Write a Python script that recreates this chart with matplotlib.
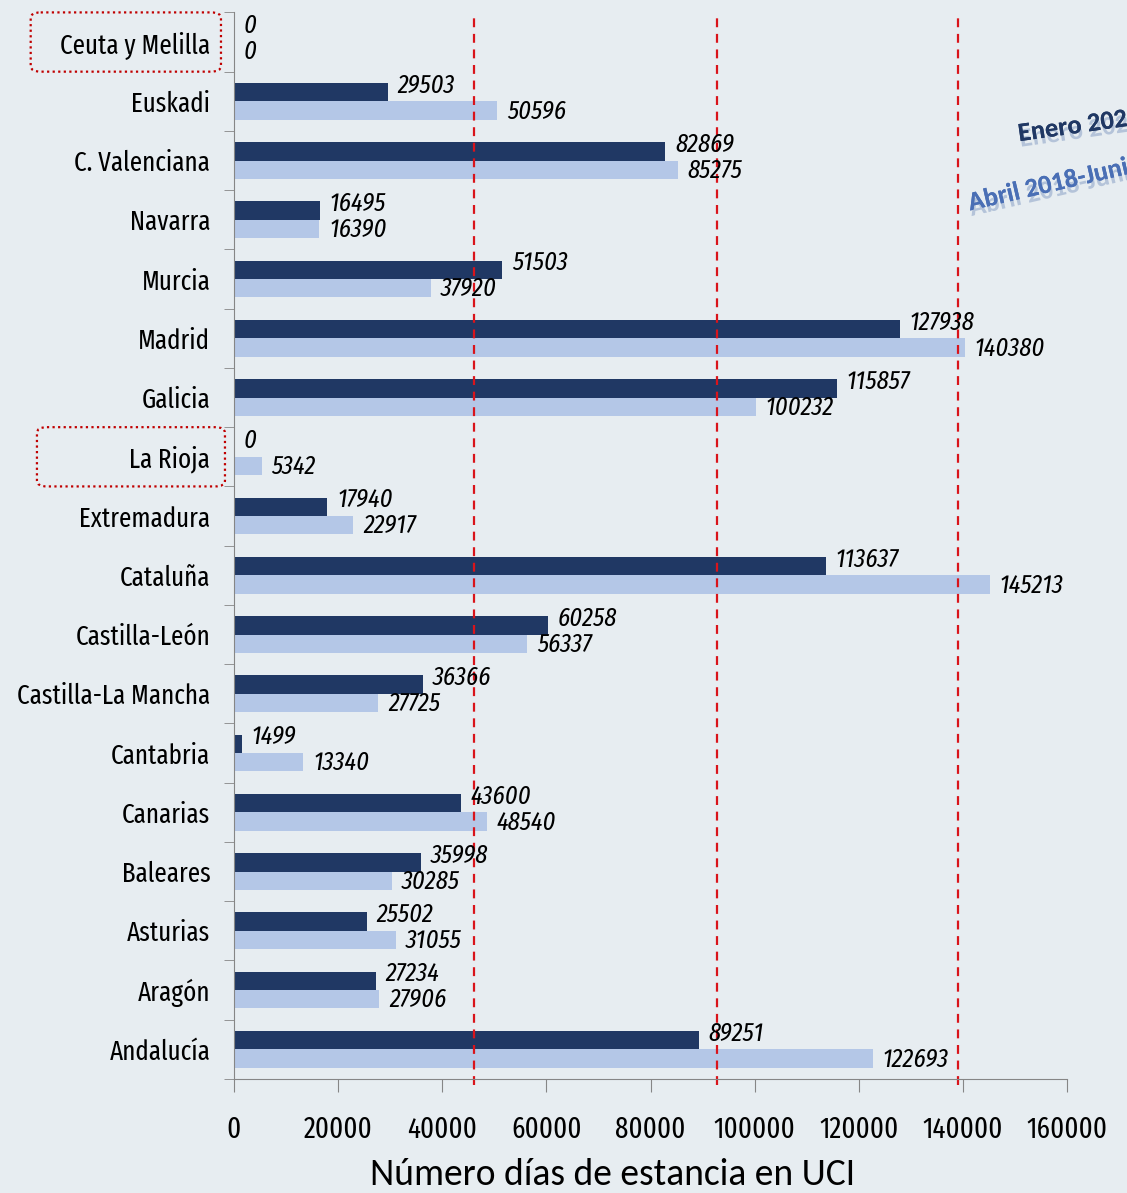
import numpy as np
import matplotlib.pyplot as plt
import matplotlib.transforms as mtransforms
import matplotlib.patheffects as pe
from matplotlib.patches import FancyBboxPatch

plt.rcParams['font.family'] = ['Fira Sans Extra Condensed', 'DejaVu Sans']

regions = ["Ceuta y Melilla", "Euskadi", "C. Valenciana", "Navarra", "Murcia", "Madrid",
           "Galicia", "La Rioja", "Extremadura", "Cataluña", "Castilla-León",
           "Castilla-La Mancha", "Cantabria", "Canarias", "Baleares", "Asturias",
           "Aragón", "Andalucía"]
dias_2020 = [0, 29503, 82869, 16495, 51503, 127938, 115857, 0, 17940, 113637, 60258,
             36366, 1499, 43600, 35998, 25502, 27234, 89251]
dias_2018 = [0, 50596, 85275, 16390, 37920, 140380, 100232, 5342, 22917, 145213, 56337,
             27725, 13340, 48540, 30285, 31055, 27906, 122693]
cortes = [46100, 92800, 139100]
marcados = ["Ceuta y Melilla", "La Rioja"]

bg = '#E7EDF1'
dark = '#203864'
light = '#B4C7E7'

fig = plt.figure(figsize=(11.27, 11.93), dpi=100, facecolor=bg)
ax = fig.add_axes([0.2076, 0.0956, 0.7392, 0.894])
ax.set_facecolor(bg)

y = np.arange(len(regions))
h = 0.31
ax.barh(y - h / 2, dias_2020, height=h, color=dark)
ax.barh(y + h / 2, dias_2018, height=h, color=light)

for i in range(len(regions)):
    ax.annotate(str(dias_2020[i]), (dias_2020[i], y[i] - 0.27), xytext=(7, 0),
                textcoords='offset points', va='center', ha='left',
                fontsize=19, style='italic', color='black')
    ax.annotate(str(dias_2018[i]), (dias_2018[i], y[i] + 0.17), xytext=(7, 0),
                textcoords='offset points', va='center', ha='left',
                fontsize=19, style='italic', color='black')

for c in cortes:
    ax.axvline(c, color='#D9141B', ls=(0, (4, 3)), lw=1.6, ymin=-0.006, ymax=1, clip_on=False)

ax.set_xlim(0, 160000)
ax.set_ylim(len(regions) - 0.5, -0.5)
ax.set_xticks(np.arange(0, 160001, 20000))
ax.set_yticks(y)
ax.set_yticklabels(regions, fontsize=19.5)
ax.set_yticks(np.arange(-0.5, len(regions), 1), minor=True)
ax.tick_params(axis='y', which='major', length=0, pad=17)
ax.tick_params(axis='y', which='minor', length=7, color='#868686', direction='out')
ax.tick_params(axis='x', length=9, color='#868686', pad=17, labelsize=21)

for s in ['top', 'right']:
    ax.spines[s].set_visible(False)
for s in ['left', 'bottom']:
    ax.spines[s].set_color('#868686')

ax.set_xlabel("Número días de estancia en UCI", fontsize=27,
              family=['Carlito', 'DejaVu Sans'])
ax.xaxis.set_label_coords(0.455, -0.074)

trans = mtransforms.blended_transform_factory(ax.transAxes, ax.transData)
for nombre in marcados:
    i = regions.index(nombre)
    x0 = -0.244 if i == 0 else -0.2365
    x1 = -0.0156 if i == 0 else -0.0108
    box = FancyBboxPatch((x0, i - 0.5), x1 - x0, 1.0,
                         boxstyle='round,pad=0,rounding_size=0.012',
                         transform=trans, clip_on=False, fill=False,
                         edgecolor='#C00000', ls=(0, (1, 1.5)), lw=1.6,
                         mutation_aspect=8)
    ax.add_patch(box)

sombra = [pe.withSimplePatchShadow(offset=(1, -4), shadow_rgbFace='#9FB2CF', alpha=0.7), pe.Normal()]
fig.text(0.902, 0.895, "Enero 2020", rotation=8, fontsize=19, fontweight='bold',
         color=dark, ha='left', va='center', path_effects=sombra,
         family=['Carlito', 'DejaVu Sans'])
fig.text(0.857, 0.852, "Abril 2018-Junio 2019", rotation=13, fontsize=19, fontweight='bold',
         color='#4A6FB5', ha='left', va='center', path_effects=sombra,
         family=['Carlito', 'DejaVu Sans'])

fig.savefig("out.png", dpi=100, facecolor=bg)
